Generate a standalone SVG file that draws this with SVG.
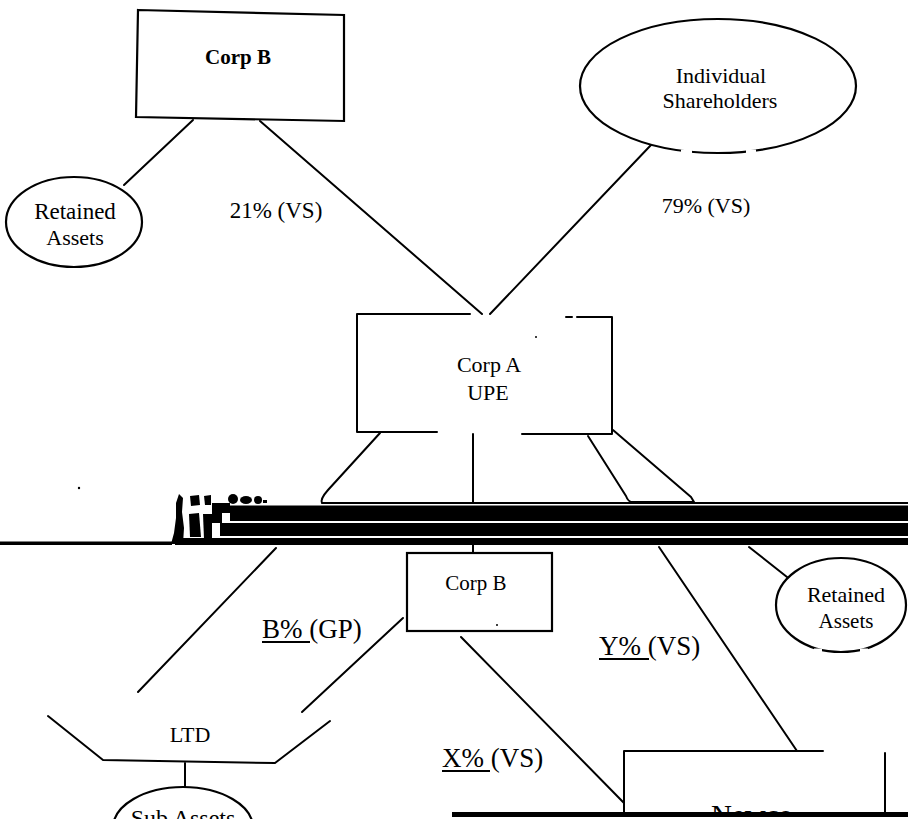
<svg xmlns="http://www.w3.org/2000/svg" width="908" height="819" viewBox="0 0 908 819">
<defs>
<style>
.ln{stroke:#000;stroke-width:2;fill:none;stroke-linecap:round;stroke-linejoin:round}
.bx{stroke:#000;stroke-width:2.2;fill:#fff}
.t{font-family:"Liberation Serif","Times New Roman",serif;fill:#000}
.m{text-anchor:middle}
.ul{stroke:#000;stroke-width:2}
.bar{fill:#000}
</style>
<clipPath id="newcoClip"><rect x="600" y="700" width="300" height="112"/></clipPath>
</defs>
<rect width="908" height="819" fill="#fff"/>

<g id="connectors">
<path class="ln" d="M193,120 L124,185"/>
<path class="ln" d="M260,121 L482,314"/>
<path class="ln" d="M651,145 L490,314"/>
<path class="ln" d="M380,433 L328,490 Q320,499 322,503"/>
<path class="ln" d="M473,434 L473,503"/>
<path class="ln" d="M588,436 L626,496 Q628,501 631,502 L694,502 L691,497 L613,430"/>
<path class="ln" d="M473,545 L473,553"/>
<path class="ln" d="M276,548 L138,692"/>
<path class="ln" d="M403,618 L302,712"/>
<path class="ln" d="M461,637 L624,803"/>
<path class="ln" d="M659,547 L797,751"/>
<path class="ln" d="M749,547 L787,577"/>
<path class="ln" d="M185,763 L185,787"/>
</g>

<g id="corpB-top">
<polygon class="bx" points="138,10 344,15 344,121 136,117"/>
<text class="t m" x="238" y="64" font-size="21" font-weight="bold">Corp B</text>
</g>

<g id="retained-left">
<ellipse class="bx" cx="74" cy="222" rx="68" ry="45"/>
<text class="t m" x="75" y="219" font-size="23">Retained</text>
<text class="t m" x="75" y="245" font-size="22">Assets</text>
</g>

<text class="t m" x="276" y="218" font-size="23">21% (VS)</text>

<g id="individual">
<ellipse class="bx" cx="718" cy="86" rx="138" ry="67"/>
<line x1="681" y1="152" x2="692" y2="152" stroke="#fff" stroke-width="5"/>
<line x1="746" y1="152" x2="756" y2="152" stroke="#fff" stroke-width="5"/>
<text class="t m" x="721" y="83" font-size="22">Individual</text>
<text class="t m" x="720" y="108" font-size="22">Shareholders</text>
</g>

<text class="t m" x="706" y="213" font-size="22">79% (VS)</text>

<g id="corpA">
<path class="ln" d="M470,314 L357,314 L357,432 L437,432"/>
<path class="ln" d="M522,434 L612,434 L612,317 L577,317"/>
<path class="ln" d="M566,317 L572,317" stroke-width="1.5"/>
<circle cx="536" cy="337" r="1" fill="#000"/>
<text class="t m" x="489" y="372" font-size="22">Corp A</text>
<text class="t m" x="488" y="400" font-size="22">UPE</text>
</g>

<g id="scan-bars">
<rect class="bar" x="322" y="502" width="586" height="2"/>
<rect class="bar" x="230" y="505.5" width="678" height="15.5"/>
<rect class="bar" x="220" y="523" width="688" height="13"/>
<rect class="bar" x="175" y="538" width="733" height="7"/>
<rect class="bar" x="0" y="541.5" width="172" height="3.5"/>
<path class="bar" d="M171,544 L174,533 L176,518 L176,503 L179,494 L183,498 L182,512 L184,528 L183,544 Z"/>
<path class="bar" d="M190,496 L199,495 L200,505 L191,506 Z"/>
<path class="bar" d="M189,514 L199,513 L201,537 L190,537 Z"/>
<path class="bar" d="M204,496 L211,495 L211,505 L205,505 Z"/>
<path class="bar" d="M203,514 L212,514 L212,540 L204,539 Z"/>
<rect class="bar" x="212" y="503" width="18" height="10"/>
<rect class="bar" x="212" y="513" width="10" height="10"/>
<ellipse class="bar" cx="233" cy="499" rx="5" ry="5"/>
<ellipse class="bar" cx="246" cy="500" rx="6" ry="4"/>
<ellipse class="bar" cx="258" cy="500" rx="4" ry="4"/>
<rect class="bar" x="263" y="500" width="4" height="3"/>
<circle cx="79" cy="488" r="1.2" fill="#000"/>
</g>

<g id="corpB-lower">
<rect class="bx" x="407" y="553" width="145" height="78"/>
<circle cx="497" cy="625" r="1" fill="#000"/>
<text class="t m" x="476" y="590" font-size="21">Corp B</text>
</g>

<g id="retained-right">
<ellipse class="bx" cx="841" cy="605" rx="65" ry="47"/>
<line x1="814" y1="651" x2="822" y2="651" stroke="#fff" stroke-width="5"/>
<line x1="860" y1="651" x2="868" y2="651" stroke="#fff" stroke-width="5"/>
<text class="t m" x="846" y="602" font-size="22">Retained</text>
<text class="t m" x="846" y="628" font-size="21">Assets</text>
</g>

<g id="labels">
<text class="t" x="262" y="638" font-size="27">B% (GP)</text>
<line class="ul" x1="262" y1="642" x2="310" y2="642"/>
<text class="t" x="599" y="655" font-size="27">Y% (VS)</text>
<line class="ul" x1="599" y1="659" x2="649" y2="659"/>
<text class="t" x="442" y="767" font-size="27">X% (VS)</text>
<line class="ul" x1="442" y1="771" x2="490" y2="771"/>
</g>

<g id="ltd">
<path class="ln" d="M48,716 L103,760 L275,763 L330,721"/>
<text class="t m" x="190" y="742" font-size="22">LTD</text>
</g>

<g id="sub-assets">
<ellipse class="bx" cx="183" cy="828" rx="70" ry="41"/>
<text class="t m" x="183" y="826" font-size="24">Sub Assets</text>
</g>

<g id="newco">
<path class="ln" d="M624,812 L624,751 L823,751"/>
<path class="ln" d="M885,753 L885,812"/>
<text class="t m" x="752" y="825" font-size="29" clip-path="url(#newcoClip)">Newco</text>
<rect class="bar" x="452" y="812" width="456" height="5"/>
</g>
</svg>
